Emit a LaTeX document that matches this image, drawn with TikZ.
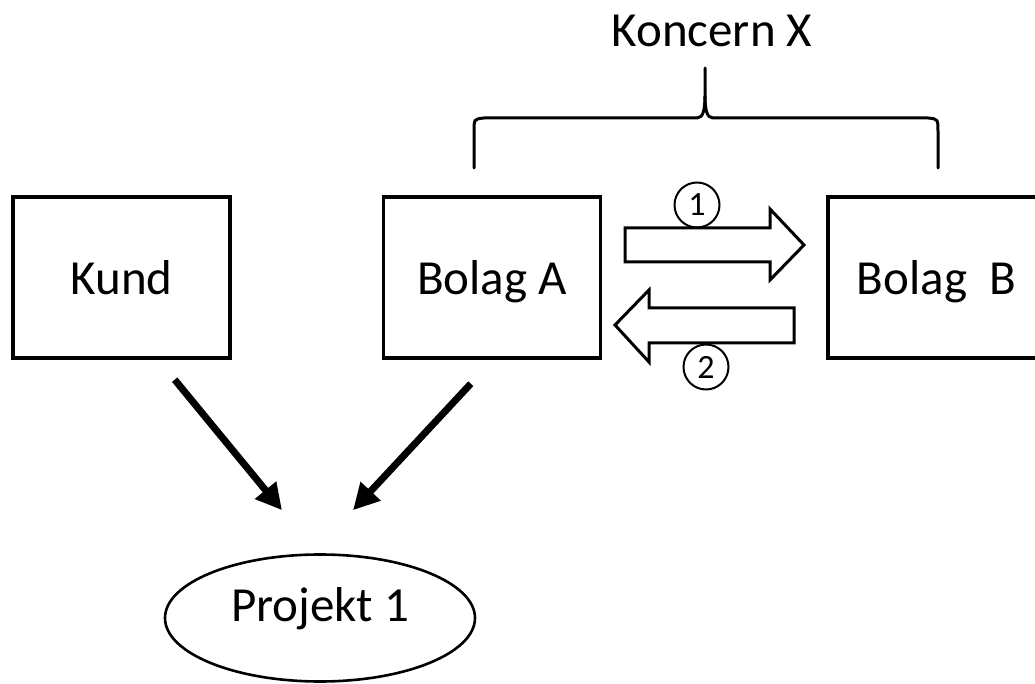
\documentclass[tikz,border=0pt]{standalone}
\usepackage{fontspec}
\setmainfont{Carlito}
\usetikzlibrary{arrows.meta,shapes.geometric}

\begin{document}
\begin{tikzpicture}[x=0.5pt,y=-0.5pt,
    box/.style={draw,line width=1.7pt,minimum width=108.5pt,minimum height=80.5pt,
      inner sep=0pt,font=\fontsize{24.5}{29}\selectfont,text height=17pt,text depth=0pt},
    oval/.style={ellipse,draw,line width=1.3pt,minimum width=155pt,minimum height=63.5pt,
      inner sep=0pt,font=\fontsize{24.5}{29}\selectfont,text height=17pt,text depth=13pt},
    ring/.style={circle,draw,line width=1pt,minimum size=22.5pt,inner sep=0pt,
      font=\fontsize{17}{20}\selectfont},
    hollow/.style={draw,line width=1.5pt,line join=miter},
    bigarrow/.style={line width=3.5pt,-{Triangle[length=13pt,width=13pt]}}]

        \useasboundingbox (0,0) rectangle (1035,684);

        \begin{scope}[every node/.style={box}]
          \node (kund)   at (121.5,277.5) {Kund};
          \node (bolagA) at (492,277.5)   {Bolag A};
          \node (bolagB) at (936.5,277.5) {Bolag\ \ B};
        \end{scope}

        \node[oval] (projekt) at (320,618) {Projekt 1};

        \node[font=\fontsize{24.5}{29}\selectfont,anchor=base] (koncern) at (712,47) {Koncern X};

        % brace over the group
        \draw[line width=1.5pt,line cap=round]
          (474,168) -- (474,132) .. controls (474,119) .. (484,118) -- (697,118)
          .. controls (703,118) and (705,110) .. (705,96) -- (705,68);
        \draw[line width=1.5pt,line cap=round]
          (938,168) -- (938,132) .. controls (938,119) .. (928,118) -- (713,118)
          .. controls (707,118) and (705,110) .. (705,96);

        % block arrows between the companies
        \draw[hollow] (625,228) -- (770,228) -- (770,209) -- (804,245)
          -- (770,280) -- (770,262) -- (625,262) -- cycle;
        \draw[hollow] (794,308) -- (649,308) -- (649,290) -- (615,325)
          -- (649,362) -- (649,343) -- (794,343) -- cycle;

        \node[ring] (one) at (697,205) {1};
        \node[ring] (two) at (706,367) {2};

        \begin{scope}[every path/.style={bigarrow}]
          \draw ([shift={(-57,20)}]kund.south east) -- ([shift={(-38,-43)}]projekt.north);
          \draw ([shift={(89,24)}]bolagA.south west) -- ([shift={(33,-43)}]projekt.north);
        \end{scope}

      \end{tikzpicture}
\end{document}
